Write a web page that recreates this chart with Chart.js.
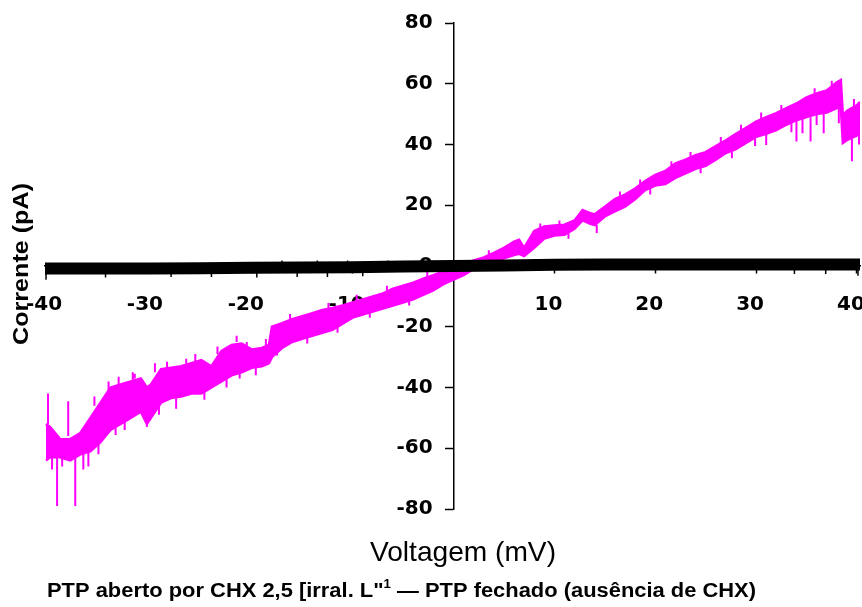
<!DOCTYPE html>
<html>
<head>
<meta charset="utf-8">
<script src="https://cdn.jsdelivr.net/npm/chart.js@4/dist/chart.umd.min.js"></script>
<style>
  html, body { margin: 0; padding: 0; background: #ffffff; overflow: hidden; }
  #ivChart { display: block; }
</style>
</head>
<body>
<canvas id="ivChart" width="862" height="607"></canvas>
<script>
// PTP opened by CHX: noisy current band, upper and lower edge (pA) per voltage (mV)
const voltages = [-40.4, -40, -39, -38, -37, -36, -35, -34, -33, -32, -31, -30.4, -30, -29, -28, -27, -26, -25, -24, -23, -22, -21, -20, -19, -18.3,
  -18, -17, -16, -15, -14, -13, -12, -11, -10, -9, -8, -7, -6, -5, -4, -3, -2, -1, 0, 1, 2, 3, 4, 5, 6, 6.5, 7, 8, 9, 10,
  11, 12, 12.8, 13.5, 14, 15, 16, 17, 18, 19, 20, 21, 22, 23, 24, 25, 26, 27, 28, 29, 30, 31, 32, 33, 34, 35, 36, 37, 38,
  38.4, 38.6, 39, 40, 40.3];
const upperOpen = [-52, -53, -57, -57, -55, -50, -45, -40, -39, -38, -37, -40, -39, -34, -33.5, -33, -32, -31, -33, -28, -26, -25.5, -27.5, -27, -26,
  -20, -18.8, -17.5, -16.5, -15.5, -14.5, -13.8, -13, -12, -11, -10, -9, -7.5, -6.5, -5.5, -4.2, -3, -1.8, -0.8, 0.5, 1.8, 2.8, 4.3, 6, 8, 8.6, 6, 11.5, 13, 13.3,
  13.6, 15, 18.4, 17.5, 17, 19.5, 22, 23.5, 25.5, 28, 30, 31.3, 33.8, 35, 36.5, 37.5, 39.5, 41.4, 43.5, 45.5, 47.5, 49, 50.3, 52, 53.5, 55.5, 56.8, 57.8, 60.5,
  61.2, 49.7, 51, 53, 54];
const lowerOpen = [-64, -63, -63, -64, -62, -61, -58, -54, -52, -50, -48, -52, -50, -45, -43.5, -43, -42, -42, -40, -38, -36, -35, -33.5, -33, -32,
  -30, -27, -25, -24, -23, -22, -21, -19, -17, -16, -15, -14, -13, -12, -11, -9.5, -8, -6, -4.5, -3, -1, 0.3, 1.3, 2.5, 3.6, 4, 3.3, 6, 9, 10,
  10.3, 12.3, 15, 14, 13.5, 16.3, 18, 19.5, 22, 25, 26.5, 27, 29, 30.5, 32, 33, 35, 37.2, 38.5, 40.5, 42.5, 43.5, 44.7, 46.5, 48, 49, 50, 50.5, 52,
  52, 40.5, 41.4, 43, 44];
// single spikes of the open trace: [voltage, from, to]
const spikesOpen = [
  [-40.2, -52, -42], [-39.3, -62, -79], [-38.2, -56, -44.5], [-37.5, -62, -79], [-36.7, -60, -67],
  [-33.5, -52, -55.6], [-31.6, -37, -35.5], [-30.4, -48, -53], [-21.5, -25, -23], [-21.2, -35, -37],
  [14.2, 13.5, 10.9], [29.9, 42, 39.5], [31, 43.5, 39.8], [34, 48, 41], [34.6, 48.5, 43.7],
  [35.4, 49, 41], [36, 50, 46.4], [36.7, 50.3, 43.7], [39.5, 42, 34.5],
  [-39.8, -63, -67], [-38.8, -63, -66], [-36.2, -61, -66], [-35.6, -46, -43], [-35.2, -58, -62],
  [-34.2, -41, -38], [-33.2, -39, -36.5], [-32.6, -51, -54], [-31.8, -38, -35], [-29.6, -35, -32],
  [-29.2, -46, -49], [-28.4, -34, -31.5], [-27.5, -43.5, -47], [-26.5, -32.5, -30.5], [-25.6, -31.5, -29],
  [-24.7, -41, -44], [-23.4, -29, -26.5], [-22.5, -37, -40], [-20.5, -27, -25], [-19.6, -33.5, -36],
  [-18.6, -26, -24], [-17.5, -27, -29.5], [-16.2, -17.6, -15.8], [-14.5, -23.5, -25.5], [-12.4, -14, -12.2],
  [-11.5, -20, -22], [-9.6, -11.5, -9.5], [-8.3, -15, -17], [-6.6, -8.2, -6.5], [-4.4, -11.5, -13],
  [-2.6, -3.8, -2], [3.5, 3.6, 5.2], [8.6, 12.3, 14], [10.5, 13.5, 15], [11.4, 10.8, 9],
  [16.5, 22.8, 24.5], [18.5, 26.8, 28.5], [19.5, 25.7, 23.5], [21.6, 32.5, 34.5], [23.5, 35.8, 37.5],
  [24.5, 32.5, 30.5], [26.5, 40.5, 42.5], [27.6, 38, 35.5], [28.5, 44.5, 46.5], [30.5, 48.3, 50.5],
  [32.5, 51.2, 53], [33.5, 47.5, 44], [35.8, 56.5, 58.5], [37.5, 59, 61], [38.2, 52, 47],
  [39.7, 52, 55], [40.2, 44, 40]
];

// PTP closed (no CHX): flat current around zero
const closedV = [-40.5, -35, -30, -25, -20, -15, -10, -5, 0, 5, 10, 15, 20, 25, 30, 35, 40.3];
const closedI = [-0.8, -0.8, -0.8, -0.7, -0.6, -0.5, -0.4, -0.2, 0, 0.2, 0.4, 0.5, 0.5, 0.5, 0.5, 0.5, 0.5];
const spikesClosed = [
  [-40.4, 0, -4.5], [-34.5, -1, -3.8], [-28, -1, -3.6], [-24, -1, -3.6], [-19.5, -1, -3.8],
  [-15.5, -1, -3.6], [-12.5, -1, -3.6], [-9, -0.5, -3.4], [-17, 0, 1.8], [-13.5, 0, 1.8],
  [-10.5, 0, 1.8], [-6.5, 0, 1.8], [33.8, 0, -2.6], [36.9, 0, -2.6], [40.1, 0, -3.2]
];

function toPoints(xs, ys) {
  return xs.map((v, i) => ({ x: v, y: ys[i] }));
}
function toSegments(list) {
  return list.flatMap(s => [{ x: s[0], y: s[1] }, { x: s[0], y: s[2] }, { x: s[0], y: null }]);
}

// draws text stretched to a given width, parts can use different fonts
function drawStretched(ctx, parts, x, y, width) {
  let total = 0;
  parts.forEach(p => { ctx.font = p.font; total += ctx.measureText(p.text).width; });
  ctx.save();
  ctx.translate(x, y);
  ctx.scale(width / total, 1);
  let cx = 0;
  parts.forEach(p => {
    ctx.font = p.font;
    ctx.fillText(p.text, cx, p.dy || 0);
    cx += ctx.measureText(p.text).width;
  });
  ctx.restore();
}

const axisTitles = {
  id: 'axisTitles',
  afterDraw(chart) {
    const ctx = chart.ctx;
    ctx.save();
    ctx.fillStyle = '#000';
    ctx.textAlign = 'left';
    ctx.textBaseline = 'alphabetic';
    drawStretched(ctx, [{ text: 'Voltagem (mV)', font: '28px "Liberation Sans"' }], 370, 561, 186);
    const bold = 'bold 20px "Liberation Sans"';
    drawStretched(ctx, [
      { text: 'PTP aberto por CHX 2,5 [irral. L"', font: bold },
      { text: '1', font: 'bold 12px "Liberation Sans"', dy: -9 },
      { text: ' \u2014 PTP fechado (aus\u00eancia de CHX)', font: bold }
    ], 47, 597, 709);
    ctx.translate(22, 264);
    ctx.rotate(-Math.PI / 2);
    ctx.textBaseline = 'middle';
    drawStretched(ctx, [{ text: 'Corrente (pA)', font: 'bold 22px "Liberation Sans"' }], -81, 0, 162);
    ctx.restore();
  }
};

const CHART = document.getElementById('ivChart');
const tickFont = { family: '"DejaVu Sans"', size: 20, weight: 'bold' };

let ivChart = new Chart(CHART, {
  type: 'line',
  data: {
    datasets: [
      {
        label: 'PTP fechado',
        data: toPoints(closedV, closedI),
        borderColor: '#000000',
        borderWidth: 12,
        borderCapStyle: 'butt',
        pointRadius: 0,
        fill: false
      },
      {
        label: 'spikes fechado',
        data: toSegments(spikesClosed),
        borderColor: '#000000',
        borderWidth: 1.5,
        pointRadius: 0,
        spanGaps: false,
        fill: false
      },
      {
        label: 'spikes aberto',
        data: toSegments(spikesOpen),
        borderColor: '#ff00ff',
        borderWidth: 2,
        pointRadius: 0,
        spanGaps: false,
        fill: false
      },
      {
        label: 'PTP aberto (topo)',
        data: toPoints(voltages, upperOpen),
        borderColor: '#ff00ff',
        borderWidth: 2.5,
        pointRadius: 0,
        fill: false
      },
      {
        label: 'PTP aberto (base)',
        data: toPoints(voltages, lowerOpen),
        borderColor: '#ff00ff',
        backgroundColor: '#ff00ff',
        borderWidth: 2.5,
        pointRadius: 0,
        fill: 3
      }
    ]
  },
  options: {
    responsive: false,
    animation: false,
    devicePixelRatio: 1,
    layout: { padding: { left: 45, right: 2, top: 23, bottom: 98 } },
    plugins: {
      legend: { display: false },
      tooltip: { enabled: false }
    },
    elements: { line: { tension: 0 } },
    scales: {
      x: {
        type: 'linear',
        position: { y: 0 },
        min: -40.5,
        max: 40.3,
        grid: { drawOnChartArea: false, color: '#000', tickLength: 7, tickWidth: 1.5 },
        border: { display: true, color: '#000', width: 1.5 },
        ticks: {
          stepSize: 10,
          includeBounds: false,
          color: '#000',
          font: tickFont,
          padding: 20,
          labelOffset: -6,
          maxRotation: 0,
          callback: v => (v === 0 ? '' : v)
        },
        // edge labels may overhang the plot, keep the plot at full width
        afterFit: scale => { scale.paddingLeft = 0; scale.paddingRight = 0; }
      },
      y: {
        type: 'linear',
        position: { x: 0 },
        min: -80,
        max: 80,
        grid: { drawOnChartArea: false, color: '#000', tickLength: 8, tickWidth: 1.5 },
        border: { display: true, color: '#000', width: 1.5 },
        ticks: {
          stepSize: 20,
          color: '#000',
          font: tickFont,
          // labels of a centred axis sit right on the line, push them left
          callback: v => v + '   '
        }
      }
    }
  },
  plugins: [axisTitles]
});
</script>
</body>
</html>
